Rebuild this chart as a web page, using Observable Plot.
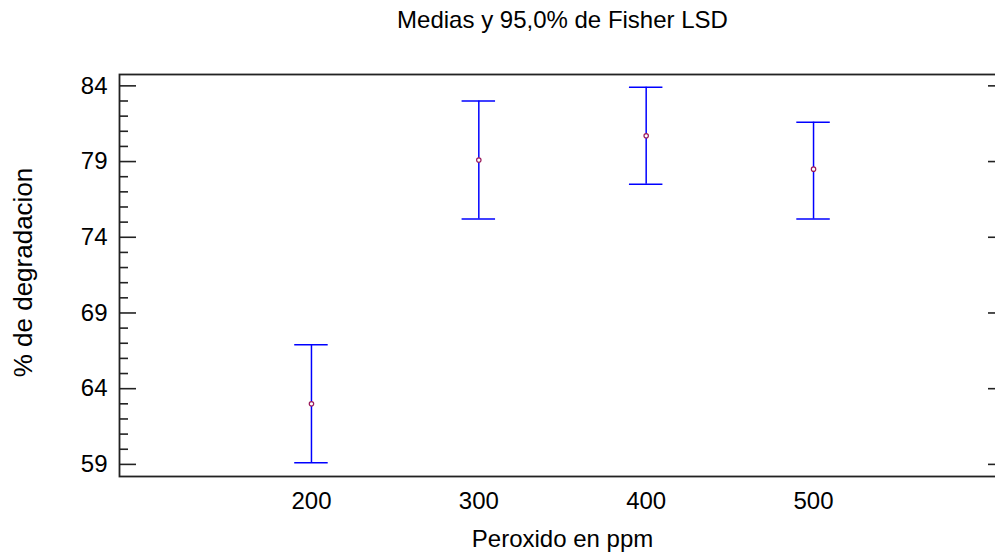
<!DOCTYPE html>
<html>
<head>
<meta charset="utf-8">
<script src="https://cdn.jsdelivr.net/npm/d3@7"></script>
<script src="https://cdn.jsdelivr.net/npm/@observablehq/plot@0.6"></script>
<style>
  html, body { margin: 0; padding: 0; background: #fff; overflow: hidden; }
  #chart svg { overflow: hidden; display: block; }
</style>
</head>
<body>
<div id="chart"></div>
<script>
const title = "Medias y 95,0% de Fisher LSD";
const xLabel = "Peroxido en ppm";
const yLabel = "% de degradacion";

const peroxide = [200, 300, 400, 500];
const means = [63.0, 79.1, 80.7, 78.5];
const lower = [59.1, 75.2, 77.5, 75.2];
const upper = [66.9, 83.0, 83.9, 81.6];

const xTicks = [200, 300, 400, 500];
const yMajor = [59, 64, 69, 74, 79, 84];
const yMinor = d3.range(59, 85).filter(v => !yMajor.includes(v));

const xDomain = [85.3, 614.7];
const yDomain = [58.2, 84.75];
const capHalf = 10;

const data = peroxide.map((p, i) => ({p, mean: means[i], lo: lower[i], hi: upper[i]}));

const W = 995, H = 554;
const mL = 119, mR = -10, mT = 74, mB = 78;
const innerW = W - mL - mR;
const font = "Liberation Sans, Arial, sans-serif";
const tickColor = "#222";

const chart = Plot.plot({
  width: W,
  height: H,
  marginLeft: mL,
  marginRight: mR,
  marginTop: mT,
  marginBottom: mB,
  style: {fontFamily: font, color: "#000", background: "#fff"},
  x: {domain: xDomain},
  y: {domain: yDomain},
  marks: [
    Plot.axisX({ticks: xTicks, tickSize: 0, tickPadding: 15, fontSize: 24, tickFormat: d => String(d),
      label: null}),
    Plot.axisY({ticks: yMajor, tickSize: 0, tickPadding: 12, fontSize: 24, tickFormat: d => String(d),
      label: null}),
    Plot.text([xLabel], {frameAnchor: "bottom", dy: 63, fontSize: 24, lineAnchor: "middle", fill: "#000"}),
    Plot.text([yLabel], {frameAnchor: "left", dx: -96, dy: -3, rotate: -90, fontSize: 26, textAnchor: "middle", lineAnchor: "middle", fill: "#000"}),
    Plot.tickY(yMajor, {y: d => d, insetRight: innerW - 17, stroke: tickColor, strokeWidth: 1.6}),
    Plot.tickY(yMinor, {y: d => d, insetRight: innerW - 9, stroke: tickColor, strokeWidth: 1.6}),
    Plot.tickY(yMajor, {y: d => d, insetLeft: innerW - 17, stroke: tickColor, strokeWidth: 1.6}),
    Plot.frame({stroke: tickColor, strokeWidth: 1.8}),
    Plot.ruleX(data, {x: "p", y1: "lo", y2: "hi", stroke: "#0000ff", strokeWidth: 1.5}),
    Plot.ruleY(data, {y: "hi", x1: d => d.p - capHalf, x2: d => d.p + capHalf, stroke: "#0000ff", strokeWidth: 1.5}),
    Plot.ruleY(data, {y: "lo", x1: d => d.p - capHalf, x2: d => d.p + capHalf, stroke: "#0000ff", strokeWidth: 1.5}),
    Plot.dot(data, {x: "p", y: "mean", r: 2.2, stroke: "#9b1a5a", strokeWidth: 1.2, fill: "#fff"}),
    Plot.text([title], {frameAnchor: "top", dy: -54, fontSize: 24, lineAnchor: "middle", fill: "#000"})
  ]
});
document.getElementById("chart").appendChild(chart);
</script>
</body>
</html>
